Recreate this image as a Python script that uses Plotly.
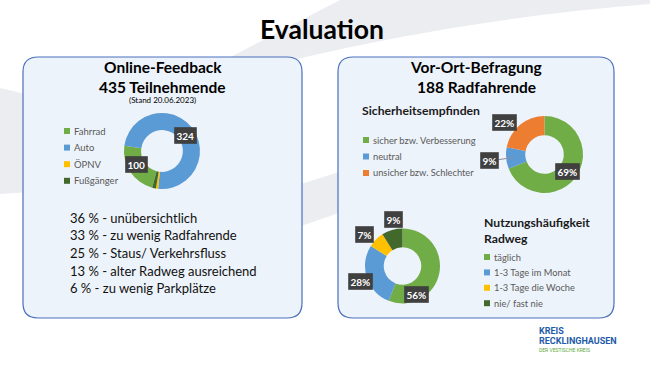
import math
import plotly.graph_objects as go

W, H = 650, 365

# ---------------- data ----------------
online_labels = ["Fahrrad", "Auto", "ÖPNV", "Fußgänger"]
online_values = [100, 324, 4, 7]
online_colors = ["#70AD47", "#5B9BD5", "#FFC000", "#43682B"]
online_show = [True, True, False, False]

safety_labels = ["sicher bzw. Verbesserung", "neutral", "unsicher bzw. Schlechter"]
safety_values = [69, 9, 22]
safety_colors = ["#70AD47", "#5B9BD5", "#ED7D31"]

usage_labels = ["täglich", "1-3 Tage im Monat", "1-3 Tage die Woche", "nie/ fast nie"]
usage_values = [56, 28, 7, 9]
usage_colors = ["#70AD47", "#5B9BD5", "#FFC000", "#43682B"]

reasons = [
    "36 % - unübersichtlich",
    "33 % - zu wenig Radfahrende",
    "25 % - Staus/ Verkehrsfluss",
    "13 % - alter Radweg ausreichend",
    "6 % - zu wenig Parkplätze",
]

FONT = "Lato, 'Open Sans', sans-serif"


def px(x):
    return x / W


def py(y):
    return 1 - y / H


fig = go.Figure()
shapes = []
annotations = []


def path_from(points_cmds):
    out = []
    for cmd, pts in points_cmds:
        coords = " ".join(f"{px(x):.5f},{py(y):.5f}" for x, y in pts)
        out.append(f"{cmd} {coords}")
    return " ".join(out) + " Z"


def rounded_rect(x0, y0, x1, y1, r):
    return path_from([
        ("M", [(x0 + r, y0)]), ("L", [(x1 - r, y0)]), ("Q", [(x1, y0), (x1, y0 + r)]),
        ("L", [(x1, y1 - r)]), ("Q", [(x1, y1), (x1 - r, y1)]),
        ("L", [(x0 + r, y1)]), ("Q", [(x0, y1), (x0, y1 - r)]),
        ("L", [(x0, y0 + r)]), ("Q", [(x0, y0), (x0 + r, y0)]),
    ])


# background swooshes
SW = "#ECEDF1"
shapes.append(dict(type="path", xref="paper", yref="paper", layer="below", line=dict(width=0), fillcolor=SW,
                   path=path_from([("M", [(225, 60)]), ("L", [(340, 0)]), ("L", [(650, 0)]), ("L", [(650, 4)]),
                                   ("Q", [(470, 18), (292, 60)])])))
shapes.append(dict(type="path", xref="paper", yref="paper", layer="below", line=dict(width=0), fillcolor=SW,
                   path=path_from([("M", [(0, 88)]), ("L", [(30, 95)]), ("L", [(30, 192)]), ("L", [(0, 194)])])))
shapes.append(dict(type="path", xref="paper", yref="paper", layer="below", line=dict(width=0), fillcolor=SW,
                   path=path_from([("M", [(298, 185)]), ("L", [(342, 171)]), ("L", [(342, 212)]), ("L", [(298, 227)])])))

# panels
for (x0, x1) in [(23, 302), (338, 614)]:
    shapes.append(dict(type="path", xref="paper", yref="paper", layer="below",
                       line=dict(color="#4A70BE", width=1.2), fillcolor="#EDF3FA",
                       path=rounded_rect(x0, 57, x1, 318, 15)))


def add_text(text, x, y, size, color="#000000", bold=False, xanchor="center", family=FONT):
    annotations.append(dict(text=text, x=px(x), y=py(y), xref="paper", yref="paper", showarrow=False,
                            xanchor=xanchor, yanchor="middle",
                            font=dict(family=family, size=size, color=color,
                                      weight="bold" if bold else "normal")))


def add_donut(labels, values, colors, cx, cy, r, hole, rotation):
    fig.add_trace(go.Pie(
        labels=labels, values=values, hole=hole, sort=False, direction="clockwise",
        rotation=rotation, marker=dict(colors=colors, line=dict(width=0)),
        textinfo="none", hoverinfo="label+value", showlegend=False,
        domain=dict(x=[px(cx - r), px(cx + r)], y=[py(cy + r), py(cy - r)]),
    ))


def slice_mids(values, rotation):
    tot = float(sum(values))
    acc = 0.0
    mids = []
    for v in values:
        mids.append(rotation + (acc + v / 2.0) / tot * 360.0)
        acc += v
    return mids


def polar(cx, cy, r, ang):
    a = math.radians(ang)
    return cx + r * math.sin(a), cy - r * math.cos(a)


def data_label(text, x, y):
    annotations.append(dict(text=text, x=px(x), y=py(y), xref="paper", yref="paper", showarrow=False,
                            xanchor="center", yanchor="middle", bgcolor="#404040", borderpad=2,
                            bordercolor="rgba(0,0,0,0.15)", borderwidth=0.5,
                            font=dict(family=FONT, size=10, color="#FFFFFF", weight="bold")))


def legend(labels, colors, x, y0, dy, size):
    for i, (lab, col) in enumerate(zip(labels, colors)):
        y = y0 + i * dy
        shapes.append(dict(type="rect", xref="paper", yref="paper", x0=px(x - 3), x1=px(x + 3),
                           y0=py(y + 3), y1=py(y - 3), fillcolor=col, line=dict(width=0)))
        add_text(lab, x + 5, y, size, color="#595959", xanchor="left")


# ---------------- title ----------------
add_text("Evaluation", 322, 29, 26.5, bold=True)

# ---------------- left panel ----------------
add_text("Online-Feedback", 163, 67, 15.5, bold=True)
add_text("435 Teilnehmende", 162, 87, 15.5, bold=True)
add_text("(Stand 20.06.2023)", 163, 100, 8)
legend(online_labels, online_colors, 67, 131, 16.6, 9.5)

c1 = (162, 151, 38)
rot1 = 195
add_donut(online_labels, online_values, online_colors, c1[0], c1[1], c1[2], 0.55, rot1)
adj1 = [6, 5, 0, 0]
rad1 = [29, 28, 0, 0]
for v, show, m, a, rr in zip(online_values, online_show, slice_mids(online_values, rot1), adj1, rad1):
    if show:
        x, y = polar(c1[0], c1[1], rr, m + a)
        data_label(str(v), x, y)

for i, t in enumerate(reasons):
    add_text(t, 68, 218 + i * 17.5, 13, color="#111111", xanchor="left")

# ---------------- right panel ----------------
add_text("Vor-Ort-Befragung", 476, 67, 15.5, bold=True)
add_text("188 Radfahrende", 476, 87, 15.5, bold=True)

add_text("Sicherheitsempfinden", 360, 110, 12.2, color="#1a1a1a", bold=True, xanchor="left")
legend(safety_labels, safety_colors, 366, 140, 16.5, 9.3)
c2 = (544.5, 154.5, 38.5)
add_donut(safety_labels, safety_values, safety_colors, c2[0], c2[1], c2[2], 0.5, 0)
adj2 = [2.5, -1, -12]
rad2 = [29, 55, 51]
mids2 = slice_mids(safety_values, 0)
for i, (v, m, a, rr) in enumerate(zip(safety_values, mids2, adj2, rad2)):
    x, y = polar(c2[0], c2[1], rr, m + a)
    if i == 1:
        xa, ya = polar(c2[0], c2[1], 30, m)
        xb, yb = polar(c2[0], c2[1], 46, m + a)
        shapes.append(dict(type="line", xref="paper", yref="paper", x0=px(xb), y0=py(yb),
                           x1=px(xa), y1=py(ya), line=dict(color="#8A8F99", width=1)))
    data_label(f"{v}%", x, y)

add_text("Nutzungshäufigkeit", 482, 222, 12.2, color="#1a1a1a", bold=True, xanchor="left")
add_text("Radweg", 482, 238, 12.2, color="#1a1a1a", bold=True, xanchor="left")
legend(usage_labels, usage_colors, 487, 257, 15.4, 9.3)
c3 = (402.5, 266, 37.5)
add_donut(usage_labels, usage_values, usage_colors, c3[0], c3[1], c3[2], 0.5, 0)
adj3 = [54, -1.5, -5, 5.5]
rad3 = [32, 45, 49, 47]
for v, m, a, rr in zip(usage_values, slice_mids(usage_values, 0), adj3, rad3):
    x, y = polar(c3[0], c3[1], rr, m + a)
    data_label(f"{v}%", x, y)

# ---------------- logo ----------------
add_text("KREIS", 537, 331, 9, color="#1E5BA8", bold=True, xanchor="left", family="Roboto, sans-serif")
add_text("RECKLINGHAUSEN", 537, 341, 9, color="#1E5BA8", bold=True, xanchor="left", family="Roboto, sans-serif")
add_text("DER VESTISCHE KREIS", 537, 350, 5, color="#5DAA3A", xanchor="left", family="Roboto, sans-serif")

fig.update_layout(
    width=W, height=H, margin=dict(l=0, r=0, t=0, b=0),
    paper_bgcolor="#FFFFFF", plot_bgcolor="#FFFFFF",
    shapes=shapes, annotations=annotations, showlegend=False,
)
fig.write_html("out.html", config={"displayModeBar": False},
               post_script="document.body.style.margin='0px';document.body.style.overflow='hidden';")
